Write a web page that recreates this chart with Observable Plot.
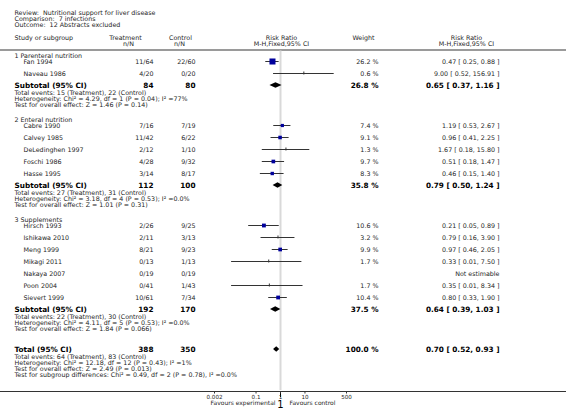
<!DOCTYPE html>
<html>
<head>
<meta charset="utf-8">
<script src="https://cdn.jsdelivr.net/npm/d3@7"></script>
<script src="https://cdn.jsdelivr.net/npm/@observablehq/plot@0.6"></script>
<style>
  html, body { margin: 0; padding: 0; background: #fff; }
  #chart svg { display: block; }
</style>
</head>
<body>
<div id="chart"></div>
<script>
// ---------- data ----------
const titleLines = [
  "Review:  Nutritional support for liver disease",
  "Comparison:  7 infections",
  "Outcome:  12 Abstracts excluded"
];
const groupNames = ["1 Parenteral nutrition", "2 Enteral nutrition", "3 Supplements"];
const studyNames = ["Fan 1994", "Naveau 1986", "Cabre 1990", "Calvey 1985", "DeLedinghen 1997",
  "Foschi 1986", "Hasse 1995", "Hirsch 1993", "Ishikawa 2010", "Meng 1999", "Mikagi 2011",
  "Nakaya 2007", "Poon 2004", "Sievert 1999"];
const studyGroup = [0, 0, 1, 1, 1, 1, 1, 2, 2, 2, 2, 2, 2, 2];
const treatText = ["11/64", "4/20", "7/16", "11/42", "2/12", "4/28", "3/14", "2/26", "2/11", "8/21", "0/13", "0/19", "0/41", "10/61"];
const ctrlText = ["22/60", "0/20", "7/19", "6/22", "1/10", "9/32", "8/17", "9/25", "3/13", "9/23", "1/13", "0/19", "1/43", "7/34"];
const weights = [26.2, 0.6, 7.4, 9.1, 1.3, 9.7, 8.3, 10.6, 3.2, 9.9, 1.7, null, 1.7, 10.4];
const rrEst = [0.47, 9.00, 1.19, 0.96, 1.67, 0.51, 0.46, 0.21, 0.79, 0.97, 0.33, null, 0.35, 0.80];
const rrLow = [0.25, 0.52, 0.53, 0.41, 0.18, 0.18, 0.15, 0.05, 0.16, 0.46, 0.01, null, 0.01, 0.33];
const rrHigh = [0.88, 156.91, 2.67, 2.25, 15.80, 1.47, 1.40, 0.89, 3.90, 2.05, 7.50, null, 8.34, 1.90];

const subTreatN = [84, 112, 192];
const subCtrlN = [80, 100, 170];
const subWeight = [26.8, 35.8, 37.5];
const subEst = [0.65, 0.79, 0.64];
const subLow = [0.37, 0.50, 0.39];
const subHigh = [1.16, 1.24, 1.03];
const subEvents = ["Total events: 15 (Treatment), 22 (Control)", "Total events: 27 (Treatment), 31 (Control)", "Total events: 22 (Treatment), 30 (Control)"];
const subHet = ["Heterogeneity: Chi² = 4.29, df = 1 (P = 0.04); I² =77%", "Heterogeneity: Chi² = 3.18, df = 4 (P = 0.53); I² =0.0%", "Heterogeneity: Chi² = 4.11, df = 5 (P = 0.53); I² =0.0%"];
const subTest = ["Test for overall effect: Z = 1.46 (P = 0.14)", "Test for overall effect: Z = 1.01 (P = 0.31)", "Test for overall effect: Z = 1.84 (P = 0.066)"];

const totalTreatN = 388, totalCtrlN = 350, totalWeight = 100.0;
const totalEst = 0.70, totalLow = 0.52, totalHigh = 0.93;
const totalLines = [
  "Total events: 64 (Treatment), 83 (Control)",
  "Heterogeneity: Chi² = 12.18, df = 12 (P = 0.43); I² =1%",
  "Test for overall effect: Z = 2.49 (P = 0.013)",
  "Test for subgroup differences: Chi² = 0.49, df = 2 (P = 0.78), I² =0.0%"
];
const axisTicks = [0.002, 0.1, 1, 10, 500];
const axisTickLabels = ["0.002", "0.1", "1", "10", "500"];
const favourLabels = ["Favours experimental", "Favours control"];
const headerCols = {study: "Study or subgroup", treat: ["Treatment", "n/N"], ctrl: ["Control", "n/N"],
  rr: ["Risk Ratio", "M-H,Fixed,95% CI"], weight: "Weight"};

// ---------- layout (computed) ----------
const fmt2 = d3.format(".2f");
const ciText = (e, l, h) => `${fmt2(e)} [ ${fmt2(l)}, ${fmt2(h)} ]`;

const groupRows = [], studyRows = [], subRows = [], noteRows = [];
let cur = 55;
groupNames.forEach((g, gi) => {
  groupRows.push({text: g, y: cur});
  cur += 6;
  studyNames.forEach((s, i) => {
    if (studyGroup[i] !== gi) return;
    studyRows.push({name: s, t: treatText[i], c: ctrlText[i], w: weights[i], rr: rrEst[i], lo: rrLow[i], hi: rrHigh[i], y: cur,
      wText: weights[i] == null ? "" : weights[i].toFixed(1) + " %",
      ciText: rrEst[i] == null ? "Not estimable" : ciText(rrEst[i], rrLow[i], rrHigh[i])});
    cur += 12;
  });
  subRows.push({label: "Subtotal (95% CI)", t: String(subTreatN[gi]), c: String(subCtrlN[gi]), wText: subWeight[gi].toFixed(1) + " %",
    ciText: ciText(subEst[gi], subLow[gi], subHigh[gi]), est: subEst[gi], lo: subLow[gi], hi: subHigh[gi], y: cur});
  noteRows.push({text: subEvents[gi], y: cur + 7.5});
  noteRows.push({text: subHet[gi], y: cur + 13.5});
  noteRows.push({text: subTest[gi], y: cur + 19.5});
  cur += 34;
});
const totalY = cur + 6;
subRows.push({label: "Total (95% CI)", t: String(totalTreatN), c: String(totalCtrlN), wText: totalWeight.toFixed(1) + " %",
  ciText: ciText(totalEst, totalLow, totalHigh), est: totalEst, lo: totalLow, hi: totalHigh, y: totalY});
totalLines.forEach((t, k) => noteRows.push({text: t, y: totalY + 7 + 6 * k}));

const titleRows = titleLines.map((t, k) => ({text: t, y: 12 + 6 * k}));
const headY1 = 37, headY2 = 43, headLineY = 49.5, axisY = 391;

const estimable = studyRows.filter(d => d.rr != null);
const bigBoxes = estimable.filter(d => d.w >= 5);
const smallBoxes = estimable.filter(d => d.w < 5);
const dh = 2.8;
const diamonds = subRows.flatMap((d, i) => [
  {id: i, x: d.lo, y1: d.y, y2: d.y},
  {id: i, x: d.est, y1: d.y - dh, y2: d.y + dh},
  {id: i, x: d.hi, y1: d.y, y2: d.y}
]);
const tickRows = axisTicks.map((v, i) => ({v, label: axisTickLabels[i]}));
const favRows = [
  {text: favourLabels[0], v: 1},
  {text: favourLabels[1], v: 1}
];

const FONT = "DejaVu Sans, Verdana, sans-serif";
const fs = 6.35, fsB = 7.3, fsAxis = 5.6, fsFav = 6;
const txtCol = "#262626";

const colText = (data, opts) => Plot.text(data, {frameAnchor: "left", fontSize: fs, fill: txtCol, lineAnchor: "middle", ...opts});

const chart = Plot.plot({
  width: 566, height: 408,
  marginLeft: 0, marginRight: 0, marginTop: 0, marginBottom: 408 - axisY,
  style: {fontFamily: FONT, background: "#fff"},
  x: {type: "log", domain: [0.002, 500], range: [214, 346]},
  y: {domain: [0, 408], range: [0, 408], axis: null},
  r: {type: "sqrt", domain: [0, d3.max(weights)], range: [0, 3.4]},
  marks: [
    // header separator
    Plot.ruleY([headLineY], {stroke: "#9a9a9a", strokeWidth: 2}),
    // line of no effect
    Plot.ruleX([1], {y1: () => headLineY + 1, y2: () => axisY - 1, stroke: "#d9d9d9", strokeWidth: 2}),
    // axis line
    Plot.ruleY([axisY], {stroke: "#333", strokeWidth: 1}),
    // titles
    colText(titleRows, {y: "y", text: "text", dx: 14, textAnchor: "start"}),
    // headers
    colText([headerCols.study], {y: headY1, text: d => d, dx: 14, textAnchor: "start"}),
    colText([headerCols.treat[0]], {y: headY1, text: d => d, dx: 125, textAnchor: "middle"}),
    colText([headerCols.treat[1]], {y: headY2, text: d => d, dx: 128, textAnchor: "middle"}),
    colText([headerCols.ctrl[0]], {y: headY1, text: d => d, dx: 180, textAnchor: "middle"}),
    colText([headerCols.ctrl[1]], {y: headY2, text: d => d, dx: 179, textAnchor: "middle"}),
    colText([headerCols.rr[0]], {y: headY1, text: d => d, dx: 281, textAnchor: "middle"}),
    colText([headerCols.rr[1]], {y: headY2, text: d => d, dx: 281, textAnchor: "middle"}),
    colText([headerCols.weight], {y: headY1, text: d => d, dx: 363, textAnchor: "middle"}),
    colText([headerCols.rr[0]], {y: headY1, text: d => d, dx: 466, textAnchor: "middle"}),
    colText([headerCols.rr[1]], {y: headY2, text: d => d, dx: 466, textAnchor: "middle"}),
    // group headers
    colText(groupRows, {y: "y", text: "text", dx: 14, textAnchor: "start"}),
    // study rows
    colText(studyRows, {y: "y", text: "name", dx: 23, textAnchor: "start"}),
    colText(studyRows, {y: "y", text: "t", dx: 153, textAnchor: "end"}),
    colText(studyRows, {y: "y", text: "c", dx: 195, textAnchor: "end"}),
    colText(studyRows, {y: "y", text: "wText", dx: 378, textAnchor: "end"}),
    colText(studyRows, {y: "y", text: "ciText", dx: 499, textAnchor: "end"}),
    // subtotal / total rows
    colText(subRows, {y: "y", text: "label", dx: 14, textAnchor: "start", fontSize: fsB, fontWeight: "bold", fill: "#000"}),
    colText(subRows, {y: "y", text: "t", dx: 153, textAnchor: "end", fontSize: fsB, fontWeight: "bold", fill: "#000"}),
    colText(subRows, {y: "y", text: "c", dx: 195, textAnchor: "end", fontSize: fsB, fontWeight: "bold", fill: "#000"}),
    colText(subRows, {y: "y", text: "wText", dx: 378, textAnchor: "end", fontSize: fsB, fontWeight: "bold", fill: "#000"}),
    colText(subRows, {y: "y", text: "ciText", dx: 499, textAnchor: "end", fontSize: fsB, fontWeight: "bold", fill: "#000"}),
    // notes
    colText(noteRows, {y: "y", text: "text", dx: 14, textAnchor: "start"}),
    // CI lines
    Plot.ruleY(estimable, {y: "y", x1: "lo", x2: "hi", stroke: "#333", strokeWidth: 1}),
    Plot.ruleX(smallBoxes, {x: "rr", y1: d => d.y - 1.5, y2: d => d.y + 1.5, stroke: "#333", strokeWidth: 1}),
    Plot.dot(bigBoxes, {x: "rr", y: "y", r: "w", symbol: "square", fill: "#00009c", stroke: "none"}),
    // diamonds
    Plot.areaY(diamonds, {x: "x", y1: "y1", y2: "y2", z: "id", fill: "#000", curve: "linear"}),
    // axis ticks and labels (drawn through the x scale)
    Plot.ruleX(tickRows, {x: "v", y1: () => axisY, y2: () => axisY + 2.5, stroke: "#333", strokeWidth: 1}),
    Plot.text(tickRows, {x: "v", y: () => axisY + 5.3, text: "label", fontSize: fsAxis, fill: txtCol, textAnchor: "middle", lineAnchor: "middle"}),
    Plot.text(favRows.slice(0, 1), {x: "v", dx: -5, y: () => 402.5, text: "text", fontSize: fsFav, fill: txtCol, textAnchor: "end", lineAnchor: "middle"}),
    Plot.text(favRows.slice(1), {x: "v", dx: 9, y: () => 402.5, text: "text", fontSize: fsFav, fill: txtCol, textAnchor: "start", lineAnchor: "middle"})
  ]
});
document.getElementById("chart").appendChild(chart);
</script>
</body>
</html>
